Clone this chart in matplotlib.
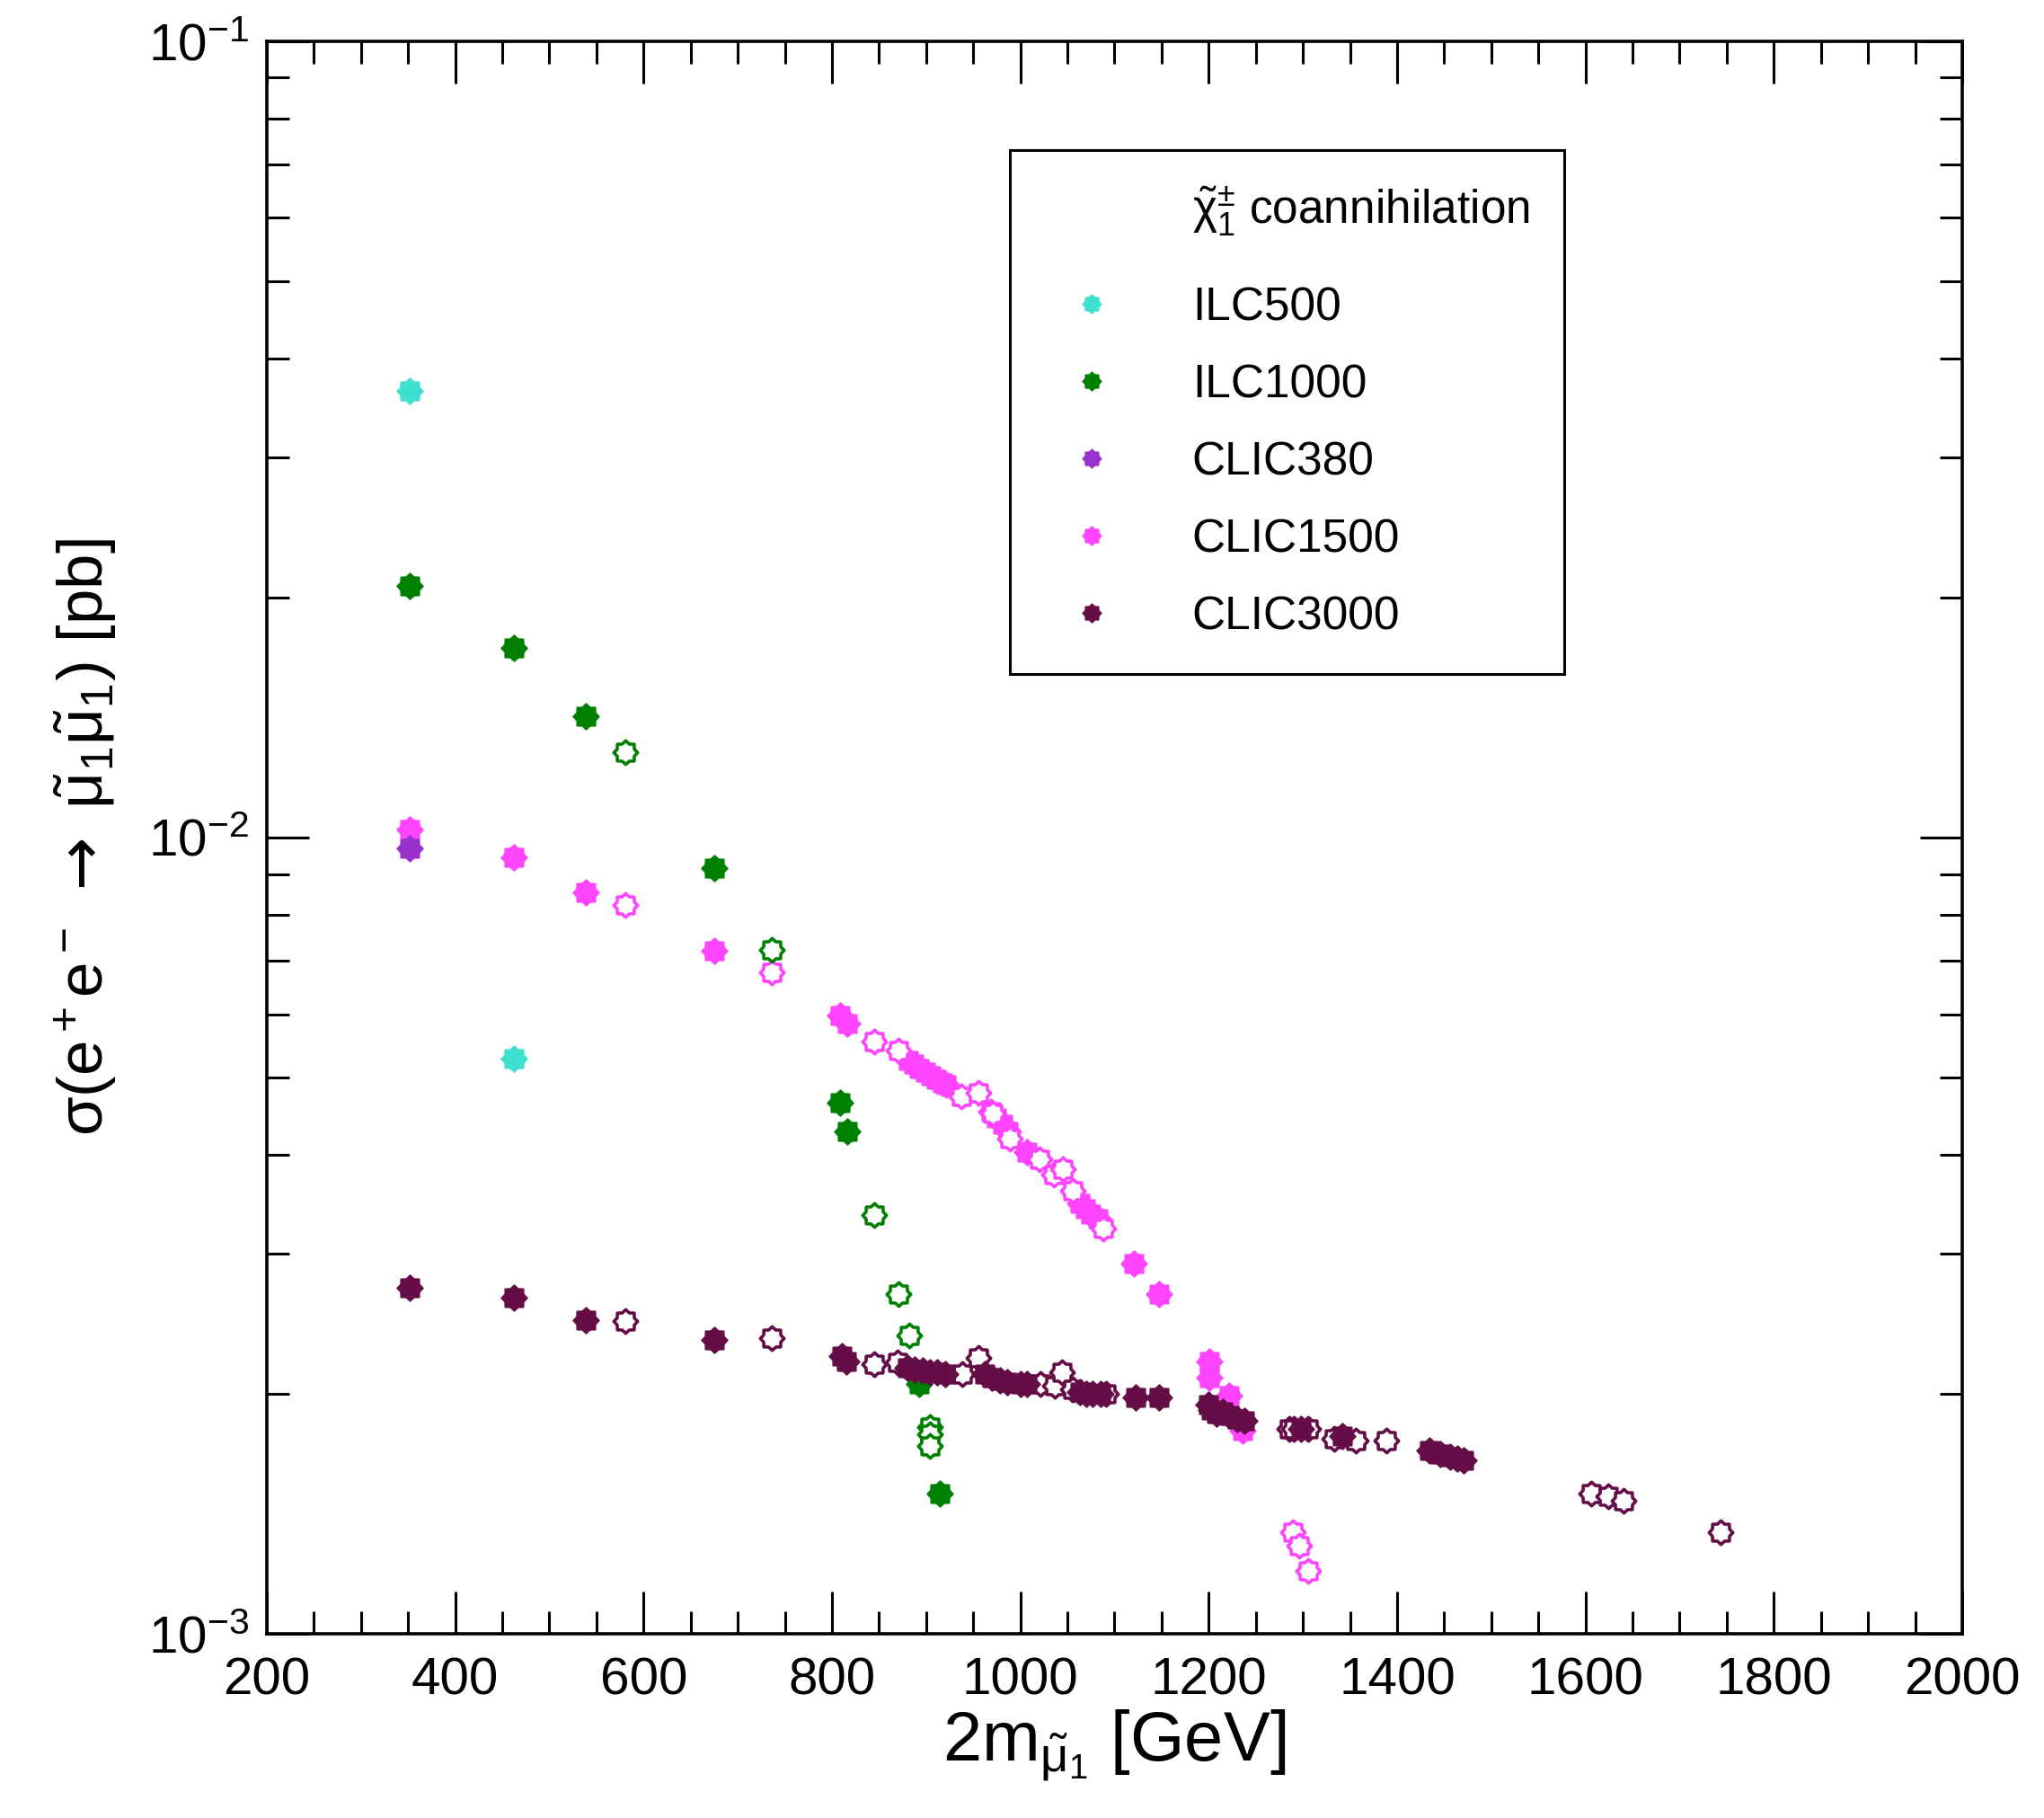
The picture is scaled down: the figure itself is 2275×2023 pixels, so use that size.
import numpy as np
import matplotlib
matplotlib.use("Agg")
import matplotlib.pyplot as plt
from matplotlib.path import Path
from matplotlib.lines import Line2D
from matplotlib.ticker import MultipleLocator, LogLocator, NullFormatter

plt.rcParams['font.family'] = ['Liberation Sans', 'DejaVu Sans']
plt.rcParams['mathtext.fontset'] = 'custom'
plt.rcParams['mathtext.rm'] = 'Liberation Sans'
plt.rcParams['mathtext.it'] = 'Liberation Sans:italic'
plt.rcParams['mathtext.sf'] = 'DejaVu Sans'
plt.rcParams['mathtext.default'] = 'regular'

# --- data (x = 2 m_smuon [GeV], y = sigma [pb]) ---
ilc500_x = [352, 462]
ilc500_y = [0.0364, 0.00528]

ilc1000_x = [352, 462, 539, 675, 809, 816, 893, 915]
ilc1000_y = [0.0207, 0.0173, 0.0142, 0.00916, 0.00464, 0.00428, 0.00206, 0.0015]
ilc1000_open_x = [581, 736, 845, 871, 882, 904, 904, 904]
ilc1000_open_y = [0.0128, 0.00723, 0.00336, 0.00267, 0.00237, 0.00182, 0.00178, 0.00172]

clic380_x = [352]
clic380_y = [0.0097]

clic1500_x = [352, 462, 539, 675, 809, 816, 881, 887, 893, 899, 905, 911, 917, 921,
              969, 975, 981, 987, 1007, 1063, 1069, 1075, 1082, 1121, 1147, 1201, 1201,
              1222, 1236]
clic1500_y = [0.01023, 0.00944, 0.00853, 0.0072, 0.00597, 0.00584, 0.00525, 0.0052,
              0.00513, 0.00508, 0.00502, 0.00497, 0.00492, 0.0049, 0.00453, 0.00445,
              0.00436, 0.00427, 0.00403, 0.00347, 0.00342, 0.00337, 0.00332, 0.00292,
              0.00267, 0.0022, 0.0021, 0.00199, 0.0018]
clic1500_open_x = [581, 736, 845, 871, 937, 956, 971, 989, 1020, 1036, 1045, 1056, 1088,
                   1289, 1296, 1306]
clic1500_open_y = [0.00822, 0.00678, 0.00555, 0.0054, 0.00473, 0.00478, 0.0045, 0.00419,
                   0.00394, 0.00377, 0.00383, 0.0036, 0.00323, 0.00134, 0.00129, 0.0012]

clic3000_x = [352, 462, 539, 675, 811, 815, 880, 888, 896, 904, 912, 920, 962, 970, 978,
              986, 1000, 1007, 1063, 1070, 1077, 1085, 1122, 1147, 1200, 1203, 1208, 1215,
              1222, 1230, 1238, 1298, 1342, 1434, 1446, 1456, 1464, 1471]
clic3000_y = [0.00272, 0.00264, 0.00248, 0.00234, 0.00223, 0.0022, 0.00216, 0.00215,
              0.00214, 0.00213, 0.00213, 0.00212, 0.00212, 0.0021, 0.00208, 0.00207,
              0.00206, 0.00206, 0.00201, 0.002, 0.002, 0.002, 0.00198, 0.00198, 0.00194,
              0.00191, 0.00189, 0.0019, 0.00188, 0.00186, 0.00185, 0.00181, 0.00177,
              0.0017, 0.00168, 0.00167, 0.00166, 0.00165]
clic3000_open_x = [581, 736, 845, 870, 938, 956, 1021, 1037, 1044, 1056, 1091, 1286, 1290,
                   1306, 1333, 1356, 1389, 1606, 1624, 1640, 1743]
clic3000_open_y = [0.00247, 0.00235, 0.00218, 0.00219, 0.00212, 0.00222, 0.00206, 0.00205,
                   0.00213, 0.00203, 0.002, 0.00181, 0.00181, 0.00181, 0.00176, 0.00175,
                   0.00175, 0.0015, 0.00149, 0.00147, 0.00134]

labels = ['ILC500', 'ILC1000', 'CLIC380', 'CLIC1500', 'CLIC3000']
colors = ['#40e0d0', '#008000', '#9932cc', '#ff44ff', '#640d46']

# 8-pointed star marker (xmgrace style)
ang = np.arange(16) * np.pi / 8
rad = np.where(np.arange(16) % 2 == 0, 1.0, 0.78)
verts = np.column_stack([rad * np.sin(ang), rad * np.cos(ang)])
verts = np.vstack([verts, verts[:1]])
codes = [Path.MOVETO] + [Path.LINETO] * 15 + [Path.CLOSEPOLY]
star = Path(verts, codes)

fig = plt.figure(figsize=(22.75, 20.23), dpi=100)
ax = fig.add_axes([0.1305, 0.1013, 0.8295, 0.876])

ms = 21


def filled(x, y, c, lab=None):
    return ax.plot(x, y, linestyle='none', marker=star, ms=ms, mfc=c, mec=c, mew=1.0,
                   label=lab)[0]


def hollow(x, y, c):
    ax.plot(x, y, linestyle='none', marker=star, ms=ms - 2, mfc='white', mec=c, mew=2.6)


h1500 = filled(clic1500_x, clic1500_y, colors[3], labels[3])
hollow(clic1500_open_x, clic1500_open_y, colors[3])
h500 = filled(ilc500_x, ilc500_y, colors[0], labels[0])
h1000 = filled(ilc1000_x, ilc1000_y, colors[1], labels[1])
hollow(ilc1000_open_x, ilc1000_open_y, colors[1])
h380 = filled(clic380_x, clic380_y, colors[2], labels[2])
hollow(clic3000_open_x, clic3000_open_y, colors[4])
h3000 = filled(clic3000_x, clic3000_y, colors[4], labels[4])

ax.set_yscale('log')
ax.set_xlim(200, 2000)
ax.set_ylim(1e-3, 1e-1)

ax.xaxis.set_major_locator(MultipleLocator(200))
ax.xaxis.set_minor_locator(MultipleLocator(50))
ax.yaxis.set_minor_locator(LogLocator(base=10, subs=np.arange(2, 10)))
ax.yaxis.set_minor_formatter(NullFormatter())
ax.set_yticks([1e-3, 1e-2, 1e-1])
ax.set_yticklabels([r'$10^{-3}$', r'$10^{-2}$', r'$10^{-1}$'])

ax.tick_params(which='both', direction='in', top=True, right=True, width=2.2,
               labelsize=42, color='black')
ax.tick_params(which='major', length=34)
ax.tick_params(which='minor', length=18)
ax.tick_params(axis='x', which='major', pad=18)
ax.tick_params(axis='y', which='major', pad=14)
for sp in ax.spines.values():
    sp.set_linewidth(2.6)

ax.set_xlabel(r'2m$_{\tilde{\mu}_1}$ [GeV]', fontsize=56, labelpad=2)
ax.set_ylabel(r'$\sigma$(e$^+$e$^-$ $\mathsf{\rightarrow}$ $\tilde{\mu}_1\tilde{\mu}_1$) [pb]',
              fontsize=51, labelpad=24)

blank = Line2D([], [], linestyle='none', marker='none')
leg = fig.legend([blank, h500, h1000, h380, h1500, h3000],
                 [r'$\tilde{\chi}^{\pm}_1$ coannihilation'] + labels,
                 loc='upper left', bbox_to_anchor=(0.494, 0.9174), fontsize=37,
                 frameon=True, fancybox=False, edgecolor='black', framealpha=1,
                 numpoints=1, handlelength=2.05, handletextpad=1.15, borderpad=0.75,
                 labelspacing=0.72, borderaxespad=0)
leg.get_frame().set_linewidth(2.2)
for hd in leg.legend_handles[1:]:
    hd.set_markersize(15)

# a bit more room under the title row of the legend
col = leg._legend_handle_box.get_children()[0]
first_row = col.get_children()[0]
first_row.get_children()[0].ydescent = 23

fig.savefig('out.png', dpi=100)
